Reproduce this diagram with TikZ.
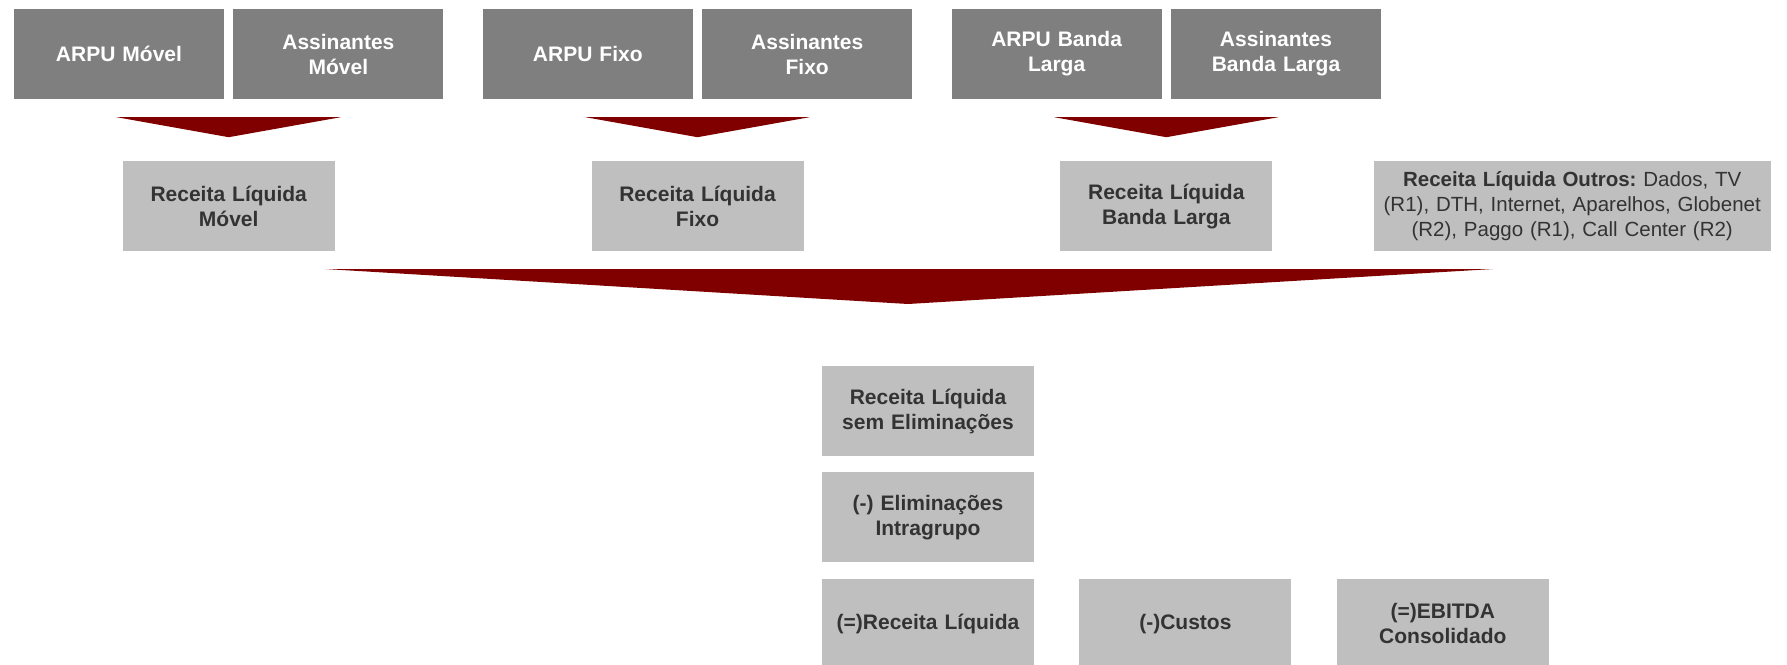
\documentclass[tikz,border=0pt]{standalone}
\usepackage{fontspec}
\setmainfont{Liberation Sans}
\usetikzlibrary{positioning,calc}
\definecolor{kpigray}{RGB}{127,127,127}
\definecolor{revgray}{RGB}{191,191,191}
\definecolor{inkgray}{RGB}{51,51,51}
\definecolor{wine}{RGB}{128,0,0}
\tikzset{kpi/.style={fill=kpigray,text=white,minimum width=210pt,minimum height=90pt,text width=204pt,inner sep=0pt,align=center,font=\fontsize{21}{25}\selectfont\bfseries},rev/.style={kpi,fill=revgray,text=inkgray,minimum width=212pt},funnel/.style={fill=wine,draw=none}}

\begin{document}
\begin{tikzpicture}[node distance=9pt]
\useasboundingbox (0,0) rectangle (1787pt,-664pt);
\node[kpi] (armov) at (119pt,-54pt) {ARPU Móvel};
\node[kpi,right=of armov] (asmov) {Assinantes\\Móvel};
\node[kpi,right=39pt of asmov] (arfix) {ARPU Fixo};
\node[kpi,right=of arfix] (asfix) {Assinantes\\Fixo};
\node[kpi,right=39pt of asfix] (arbl) {ARPU Banda\\Larga};
\node[kpi,right=of arbl] (asbl) {Assinantes\\Banda Larga};
\coordinate (pmov) at ($(armov.south east)!0.5!(asmov.south west)$);
\coordinate (pfix) at ($(arfix.south east)!0.5!(asfix.south west)$);
\coordinate (pbl) at ($(arbl.south east)!0.5!(asbl.south west)$);
\foreach \p in {pmov,pfix,pbl}
  \fill[funnel] ($(\p)+(-112pt,-18pt)$) -- ($(\p)+(112pt,-18pt)$) -- ($(\p)+(0,-38pt)$) -- cycle;
\node[rev,below=62pt of pmov] (rlmov) {Receita Líquida\\Móvel};
\node[rev,below=62pt of pfix] (rlfix) {Receita Líquida\\Fixo};
\node[rev,below=62pt of pbl] (rlbl) {Receita Líquida\\Banda Larga};
\node[rev,right=101pt of rlbl,minimum width=397pt,text width=396pt,font=\fontsize{20.5}{25}\selectfont] (rlout) {\textbf{Receita Líquida Outros:}~Dados, TV\\(R1), DTH, Internet, Aparelhos, Globenet\\(R2), Paggo (R1), Call Center (R2)};
\fill[funnel] (325pt,-269pt) -- (1493pt,-269pt) -- (908pt,-304pt) -- cycle;
\node[rev] (rlsem) at (928pt,-411pt) {Receita Líquida\\sem Eliminações};
\node[rev,below=16pt of rlsem] (elim) {(-) Eliminações\\Intragrupo};
\node[rev,below=16pt of elim] (rlcons) {(=)Receita Líquida};
\node[rev,right=45pt of rlcons] (custos) {(-)Custos};
\node[rev,right=45pt of custos] (ebitda) {(=)EBITDA\\Consolidado};
\end{tikzpicture}
\end{document}
